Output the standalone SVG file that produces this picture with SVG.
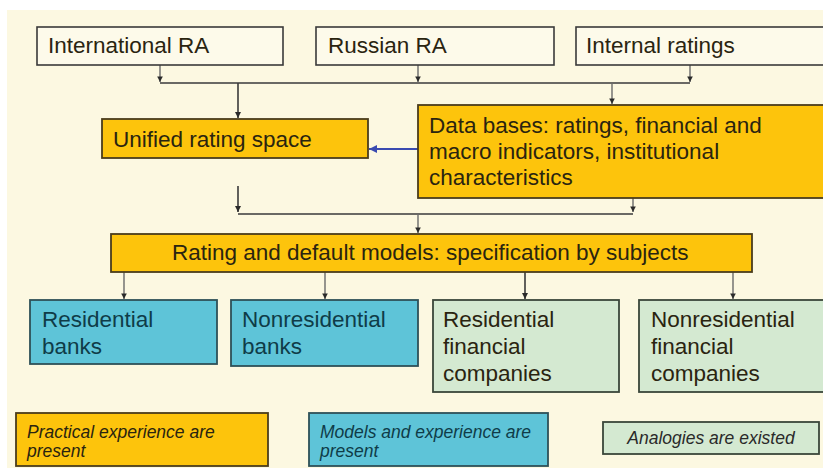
<svg xmlns="http://www.w3.org/2000/svg" width="823" height="468" viewBox="0 0 823 468">
<defs>
<style>
.t{font-family:"Liberation Sans",Arial,sans-serif;font-size:22.5px;fill:#2a2410}
.it{font-family:"Liberation Sans",Arial,sans-serif;font-size:17.5px;font-style:italic}
.top{fill:#fdfaea;stroke:#3a3a3a;stroke-width:1.6}
.gold{fill:#fdc40c;stroke:#4a3c1c;stroke-width:1.8}
.cyan{fill:#5ec4d8;stroke:#2e5058;stroke-width:1.8}
.green{fill:#d4e9d1;stroke:#3a463a;stroke-width:1.8}
.ct{fill:#0f3c48}
.ln{fill:none;stroke:#3a3a3a;stroke-width:1.6}
.lg{fill:none;stroke:#6a6a6a;stroke-width:1.4}
</style>
<marker id="ah" viewBox="0 0 10 10" refX="10" refY="5" markerWidth="4" markerHeight="4" orient="auto" markerUnits="strokeWidth">
<path d="M0,0 L10,5 L0,10 z" fill="#2a2a2a"/>
</marker>
<marker id="ab" viewBox="0 0 10 10" refX="10" refY="5" markerWidth="4" markerHeight="4" orient="auto" markerUnits="strokeWidth">
<path d="M0,0 L10,5 L0,10 z" fill="#3a4bb0"/>
</marker>
</defs>
<rect width="823" height="468" fill="#ffffff"/>
<rect x="7" y="10" width="816" height="458" fill="#fcf8e1"/>

<g id="connectors">
<path class="lg" d="M160,65 V82" marker-end="url(#ah)"/>
<path class="lg" d="M418,65 V82" marker-end="url(#ah)"/>
<path class="lg" d="M690,65 V82" marker-end="url(#ah)"/>
<path class="ln" d="M160,83 H690"/>
<path class="ln" d="M238,83 V118" marker-end="url(#ah)"/>
<path class="lg" d="M612,83 V104" marker-end="url(#ah)"/>
<path d="M418,149 H369" fill="none" stroke="#3a4bb0" stroke-width="2" marker-end="url(#ab)"/>
<path class="ln" d="M238,186 V212" marker-end="url(#ah)"/>
<path class="lg" d="M633,198 V212" marker-end="url(#ah)"/>
<path class="ln" d="M238,214 H633"/>
<path class="lg" d="M418,214 V233" marker-end="url(#ah)"/>
<path class="lg" d="M124,272 V299" marker-end="url(#ah)"/>
<path class="lg" d="M325,272 V299" marker-end="url(#ah)"/>
<path class="ln" d="M525,272 V299" marker-end="url(#ah)" stroke-width="1.9"/>
<path class="lg" d="M733,272 V299" marker-end="url(#ah)"/>
</g>

<g id="international-ra">
<rect class="top" x="37" y="27" width="246" height="38"/>
<text class="t" x="48" y="53">International RA</text>
</g>
<g id="russian-ra">
<rect class="top" x="316" y="27" width="238" height="38"/>
<text class="t" x="328" y="53">Russian RA</text>
</g>
<g id="internal-ratings">
<rect class="top" x="576" y="27" width="260" height="38"/>
<text class="t" x="586" y="53">Internal ratings</text>
</g>

<g id="unified-rating-space">
<rect class="gold" x="102" y="119" width="266" height="39"/>
<text class="t" x="113" y="147">Unified rating space</text>
</g>

<g id="data-bases">
<rect class="gold" x="418" y="105" width="420" height="93"/>
<text class="t" x="429" y="133">Data bases: ratings, financial and</text>
<text class="t" x="429" y="159">macro indicators, institutional</text>
<text class="t" x="429" y="185">characteristics</text>
</g>

<g id="rating-default-models">
<rect class="gold" x="111" y="234" width="641" height="38"/>
<text class="t" x="172" y="260">Rating and default models: specification by subjects</text>
</g>

<g id="residential-banks">
<rect class="cyan" x="30" y="300" width="187" height="64"/>
<text class="t ct" x="42" y="327">Residential</text>
<text class="t ct" x="42" y="354">banks</text>
</g>
<g id="nonresidential-banks">
<rect class="cyan" x="231" y="300" width="187" height="66"/>
<text class="t ct" x="242" y="327">Nonresidential</text>
<text class="t ct" x="242" y="354">banks</text>
</g>
<g id="residential-financial-companies">
<rect class="green" x="433" y="300" width="186" height="92"/>
<text class="t" x="443" y="327">Residential</text>
<text class="t" x="443" y="354">financial</text>
<text class="t" x="443" y="381">companies</text>
</g>
<g id="nonresidential-financial-companies">
<rect class="green" x="639" y="300" width="200" height="92"/>
<text class="t" x="651" y="327">Nonresidential</text>
<text class="t" x="651" y="354">financial</text>
<text class="t" x="651" y="381">companies</text>
</g>

<g id="legend-practical">
<rect class="gold" x="16" y="413" width="252" height="53"/>
<text class="it" x="27" y="438" fill="#2a2410">Practical experience are</text>
<text class="it" x="27" y="457" fill="#2a2410">present</text>
</g>
<g id="legend-models">
<rect class="cyan" x="309" y="413" width="239" height="53"/>
<text class="it" x="320" y="438" fill="#0f3c48">Models and experience are</text>
<text class="it" x="320" y="457" fill="#0f3c48">present</text>
</g>
<g id="legend-analogies">
<rect class="green" x="603" y="422" width="216" height="32"/>
<text class="it" x="711" y="444" text-anchor="middle" fill="#2a2a2a">Analogies are existed</text>
</g>
</svg>
